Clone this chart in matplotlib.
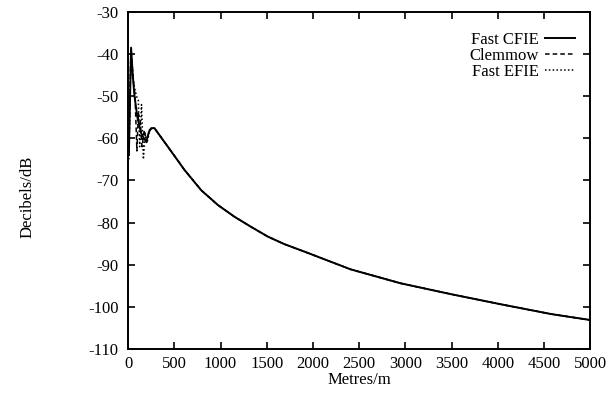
import matplotlib
matplotlib.use("Agg")
import matplotlib.pyplot as plt

# shared far-field tail (metres, dB)
tail_x = [285, 430, 610, 790, 970, 1150, 1330, 1510, 1690, 1910, 2410,
          2950, 3500, 4040, 4580, 5000]
tail_db = [-57.6, -62.0, -67.5, -72.3, -75.8, -78.6, -81.0, -83.3, -85.1, -86.9,
           -91.1, -94.4, -97.0, -99.4, -101.7, -103.1]

# near-field behaviour of each solver
cfie_x = [8, 32, 50, 69, 100, 141, 170, 195, 225, 250]
cfie_db = [-64, -38.5, -45, -50, -55, -58.8, -60, -60.8, -58.5, -57.6]

clem_x = [8, 30, 55, 75, 95, 110, 130, 150, 175, 200, 230, 260]
clem_db = [-64, -39, -46, -50, -63, -54, -56, -62, -58, -61, -58, -57.6]

efie_x = [8, 30, 60, 90, 110, 125, 145, 165, 185, 205, 235, 265]
efie_db = [-65, -39, -47, -50, -51, -62, -52, -65, -59, -61, -58, -57.6]

x_ticks = list(range(0, 5001, 500))
y_ticks = list(range(-110, -29, 10))

plt.rcParams["font.family"] = ["Liberation Serif", "DejaVu Serif"]
plt.rcParams["axes.unicode_minus"] = False

fig = plt.figure(figsize=(6.16, 3.94), dpi=100)
ax = fig.add_axes([0.208, 0.114, 0.75, 0.856])

ax.plot(cfie_x + tail_x, cfie_db + tail_db, color="black", lw=1.4,
        ls="-", label="Fast CFIE")
ax.plot(clem_x + tail_x, clem_db + tail_db, color="black", lw=1.1,
        ls=(0, (3, 2)), label="Clemmow")
ax.plot(efie_x + tail_x, efie_db + tail_db, color="black", lw=1.1,
        ls=(0, (1, 1.5)), label="Fast EFIE")

ax.set_xlim(0, 5000)
ax.set_ylim(-110, -30)
ax.set_xticks(x_ticks)
ax.set_yticks(y_ticks)
ax.tick_params(direction="in", length=5, width=1.2, top=True, right=True,
               labelsize=12)
ax.tick_params(axis="y", pad=7)
ax.tick_params(axis="x", pad=5)
for s in ax.spines.values():
    s.set_linewidth(1.4)

ax.set_xlabel("Metres/m", fontsize=12, labelpad=0)
ax.set_ylabel("Decibels/dB", fontsize=12)
ax.yaxis.set_label_coords(-0.2, 0.45)

ax.legend(loc="upper right", bbox_to_anchor=(1.0, 0.985), frameon=False,
          markerfirst=False, handlelength=1.8, handletextpad=0.4,
          labelspacing=0.0, fontsize=12)

fig.savefig("out.png", dpi=100)
